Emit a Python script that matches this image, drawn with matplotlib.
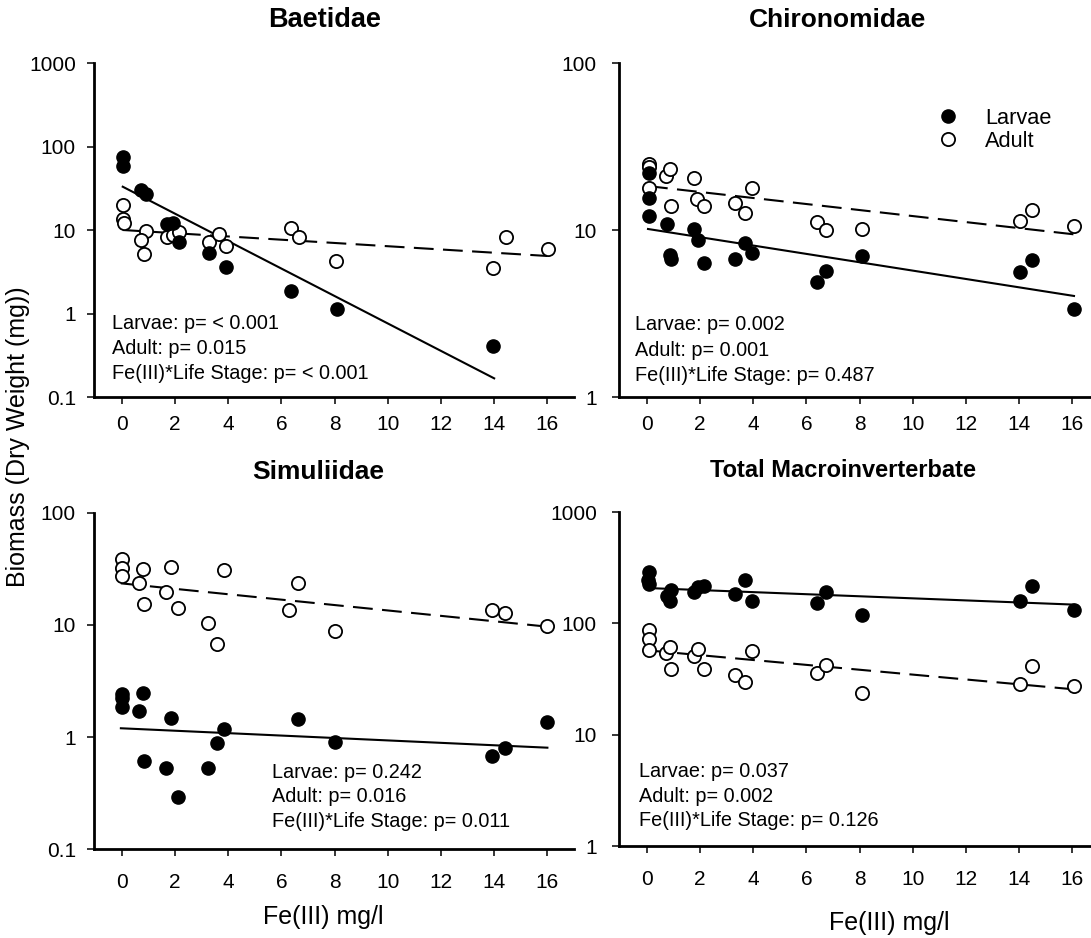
import numpy as np
import matplotlib
matplotlib.use("Agg")
import matplotlib.pyplot as plt
from matplotlib.lines import Line2D
from matplotlib.ticker import FixedLocator, FuncFormatter, NullLocator

plt.rcParams['font.family'] = ['Liberation Sans', 'DejaVu Sans']

# ---- data: Fe(III) concentration (mg/l) and biomass (mg dry weight) ----
baet_larvae_x = [0.06, 0.04, 0.71, 0.91, 1.71, 1.94, 2.17, 3.29, 3.91, 6.35, 8.08, 13.97]
baet_larvae_y = [75.5, 58.9, 30.1, 27.0, 11.7, 12.0, 7.24, 5.26, 3.63, 1.88, 1.14, 0.41]
baet_adult_x = [0.06, 0.06, 0.10, 0.91, 0.71, 0.85, 1.71, 1.92, 2.17, 3.29, 3.67, 3.91,
                6.35, 6.68, 8.06, 13.97, 14.45, 16.04]
baet_adult_y = [19.9, 13.4, 12.2, 9.8, 7.6, 5.1, 8.3, 8.7, 9.55, 7.1, 8.9, 6.5,
                10.7, 8.3, 4.3, 3.5, 8.2, 5.9]

chir_larvae_x = [0.09, 0.09, 0.09, 0.75, 0.88, 0.93, 1.76, 1.93, 2.17, 3.31, 3.69, 3.94,
                 6.39, 6.73, 8.11, 14.02, 14.50, 16.05]
chir_larvae_y = [22.0, 15.5, 12.2, 10.9, 7.08, 6.67, 10.1, 8.7, 6.37, 6.67, 8.4, 7.25,
                 4.86, 5.7, 6.99, 5.58, 6.6, 3.35]
chir_adult_x = [0.09, 0.09, 0.09, 0.71, 0.88, 0.93, 1.76, 1.90, 2.15, 3.31, 3.69, 3.94,
                6.39, 6.73, 8.11, 14.02, 14.50, 16.05]
chir_adult_y = [24.8, 23.9, 17.8, 21.1, 23.1, 14.0, 20.4, 15.3, 14.0, 14.6, 12.7, 17.9,
                11.2, 10.0, 10.1, 11.3, 13.1, 10.5]

simu_larvae_x = [0.0, 0.0, 0.0, 0.79, 0.65, 0.85, 1.85, 1.68, 2.10, 3.26, 3.60, 3.86,
                 6.64, 8.02, 13.93, 14.40, 15.98]
simu_larvae_y = [2.41, 2.22, 1.87, 2.49, 1.71, 0.61, 1.47, 0.53, 0.293, 0.525, 0.89, 1.19,
                 1.45, 0.91, 0.68, 0.79, 1.37]
simu_adult_x = [0.0, 0.0, 0.02, 0.79, 0.65, 0.85, 1.85, 1.68, 2.10, 3.26, 3.60, 3.86,
                6.29, 6.64, 8.02, 13.93, 14.40, 15.98]
simu_adult_y = [38.6, 32.5, 27.4, 31.8, 23.6, 15.3, 33.2, 19.6, 14.3, 10.4, 6.7, 31.0,
                13.6, 23.6, 8.8, 13.6, 12.7, 9.8]

total_larvae_x = [0.09, 0.05, 0.09, 0.75, 0.93, 0.88, 1.76, 1.93, 2.17, 3.31, 3.69, 3.94,
                  6.39, 6.73, 8.11, 14.02, 14.50, 16.05]
total_larvae_y = [289, 243, 227, 175, 198, 159, 191, 212, 215, 185, 243, 158,
                  152, 191, 118, 159, 215, 133]
total_adult_x = [0.09, 0.09, 0.09, 0.71, 0.88, 0.93, 1.76, 1.93, 2.17, 3.31, 3.69, 3.94,
                 6.39, 6.73, 8.11, 14.02, 14.50, 16.05]
total_adult_y = [86.5, 71.8, 58.0, 54.6, 61.3, 39.2, 50.6, 58.4, 38.6, 34.1, 29.7, 56.5,
                 35.6, 42.2, 23.8, 28.8, 41.6, 27.2]

# regression lines: log10(biomass) = intercept + slope * Fe, over [x_start, x_end]
baet_fit_larvae = [1.525, -0.1644, 0.04, 14.0]
baet_fit_adult = [1.0008, -0.0195, 0.04, 16.0]
chir_fit_larvae = [1.0073, -0.02505, 0.05, 16.06]
chir_fit_adult = [1.2639, -0.01805, 0.05, 16.06]
simu_fit_larvae = [0.0777, -0.01082, -0.03, 16.0]
simu_fit_adult = [1.3713, -0.02414, -0.03, 16.0]
total_fit_larvae = [2.3175, -0.0093, 0.05, 16.06]
total_fit_adult = [1.7581, -0.02186, 0.05, 16.06]

titles = ["Baetidae", "Chironomidae", "Simuliidae", "Total Macroinverterbate"]
baet_stats = ["Larvae: p= < 0.001", "Adult: p= 0.015", "Fe(III)*Life Stage: p= < 0.001"]
chir_stats = ["Larvae: p= 0.002", "Adult: p= 0.001", "Fe(III)*Life Stage: p= 0.487"]
simu_stats = ["Larvae: p= 0.242", "Adult: p= 0.016", "Fe(III)*Life Stage: p= 0.011"]
total_stats = ["Larvae: p= 0.037", "Adult: p= 0.002", "Fe(III)*Life Stage: p= 0.126"]

x_ticks = [0, 2, 4, 6, 8, 10, 12, 14, 16]
y_ranges = [(0.1, 1000), (1, 100), (0.1, 100), (1, 1000)]

# ---- layout (pixel boxes on a 1091 x 938 canvas) ----
W, H = 1091, 938
fig = plt.figure(figsize=(W / 100, H / 100), dpi=100)


def fig_xy(x, y):
    return x / W, 1 - y / H


def add_box(left, top, right, bottom):
    return fig.add_axes([left / W, 1 - bottom / H, (right - left) / W, (bottom - top) / H])


boxes = [(94, 63, 574, 397), (619, 63, 1099, 397), (94, 513, 574, 849), (619, 512, 1099, 846)]
x_pads = [8, 8, 12, 12]
y_pads = [8, 11, 8, 11]

panels = [
    (baet_larvae_x, baet_larvae_y, baet_adult_x, baet_adult_y, baet_fit_larvae, baet_fit_adult),
    (chir_larvae_x, chir_larvae_y, chir_adult_x, chir_adult_y, chir_fit_larvae, chir_fit_adult),
    (simu_larvae_x, simu_larvae_y, simu_adult_x, simu_adult_y, simu_fit_larvae, simu_fit_adult),
    (total_larvae_x, total_larvae_y, total_adult_x, total_adult_y, total_fit_larvae, total_fit_adult),
]

stat_blocks = [
    (111.7, [323.3, 348.3, 373.3], baet_stats),
    (635.0, [325.0, 350.0, 375.0], chir_stats),
    (271.7, [772.7, 796.7, 821.7], simu_stats),
    (639.0, [771.7, 796.0, 820.7], total_stats),
]

title_pos = [(325, 20), (838, 20), (318, 472), (843, 470)]
title_sizes = [19.5, 19, 19, 17]

marker_size = 9.5
axes_list = []
for i, (lx, ly, ax_x, ax_y, fl, fa) in enumerate(panels):
    ax = add_box(*boxes[i])
    axes_list.append(ax)
    ax.set_yscale('log')
    ax.set_xlim(-1.04, 17.0)
    ax.set_ylim(*y_ranges[i])

    # regression lines
    for fit, ls in ((fl, '-'), (fa, '--')):
        xs = np.linspace(fit[2], fit[3], 50)
        ys = 10 ** (fit[0] + fit[1] * xs)
        line, = ax.plot(xs, ys, color='black', lw=1.5, ls=ls, zorder=2)
        if ls == '--':
            line.set_dashes((9.5, 4.5))

    ax.plot(ax_x, ax_y, 'o', ms=marker_size, mfc='white', mec='black', mew=1.3,
            ls='none', zorder=3)
    ax.plot(lx, ly, 'o', ms=marker_size, mfc='black', mec='black', mew=1.0,
            ls='none', zorder=4)

    for s in ('top', 'right'):
        ax.spines[s].set_visible(False)
    for s in ('left', 'bottom'):
        ax.spines[s].set_linewidth(2.0)

    ax.xaxis.set_major_locator(FixedLocator(x_ticks))
    ax.xaxis.set_minor_locator(NullLocator())
    lo, hi = y_ranges[i]
    decades = [10.0 ** k for k in range(int(round(np.log10(lo))), int(round(np.log10(hi))) + 1)]
    ax.yaxis.set_major_locator(FixedLocator(decades))
    ax.yaxis.set_minor_locator(NullLocator())
    ax.yaxis.set_major_formatter(FuncFormatter(lambda v, p: f"{v:g}"))
    ax.tick_params(axis='both', direction='out', length=5, width=1.1, labelsize=15)
    ax.tick_params(axis='x', pad=x_pads[i])
    ax.tick_params(axis='y', pad=y_pads[i])

    tx, tys, lines = stat_blocks[i]
    for ty, txt in zip(tys, lines):
        fig.text(*fig_xy(tx, ty), txt, fontsize=14.3, ha='left', va='center')

    fig.text(*fig_xy(*title_pos[i]), titles[i], fontsize=title_sizes[i], fontweight='bold',
             ha='center', va='center')

# legend in the Chironomidae panel
handles = [
    Line2D([], [], ls='none', marker='o', ms=marker_size, mfc='black', mec='black'),
    Line2D([], [], ls='none', marker='o', ms=marker_size, mfc='white', mec='black', mew=1.3),
]
axes_list[1].legend(handles, ["Larvae", "Adult"], loc='upper left',
                    bbox_to_anchor=fig_xy(937, 107.5), bbox_transform=fig.transFigure,
                    frameon=False, borderpad=0, borderaxespad=0, handlelength=1.0,
                    handletextpad=1.2, labelspacing=0.12, fontsize=15.7)

# axis titles
fig.text(*fig_xy(323, 917), "Fe(III) mg/l", fontsize=18, ha='center', va='center')
fig.text(*fig_xy(889, 923), "Fe(III) mg/l", fontsize=18, ha='center', va='center')
fig.text(*fig_xy(18, 437), "Biomass (Dry Weight (mg))", fontsize=18, rotation=90,
         ha='center', va='center')

fig.savefig("out.png", dpi=100)
